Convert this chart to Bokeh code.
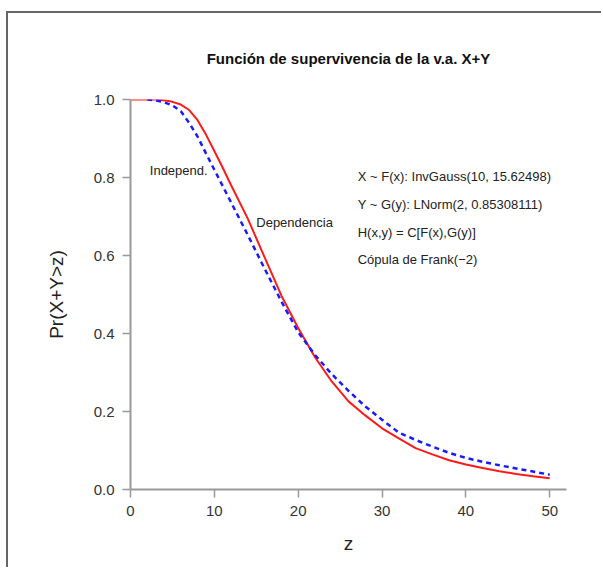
from bokeh.plotting import figure
from bokeh.models import Range1d, FixedTicker, Label, PrintfTickFormatter, Title
from bokeh.embed import file_html
from bokeh.resources import INLINE

# Data
z_dep = [0, 2, 3, 4, 5, 6, 7, 8, 9, 10, 11, 12, 14, 16, 18, 20, 22, 24, 26, 28, 30, 32, 34, 36, 38, 40,
         42, 44, 46, 48, 50]
s_dep = [1.0, 1.0, 1.0, 0.998, 0.994, 0.987, 0.973, 0.947, 0.91, 0.868, 0.825, 0.78, 0.694, 0.595, 0.497,
         0.414, 0.339, 0.277, 0.226, 0.19, 0.157, 0.131, 0.106, 0.09, 0.075, 0.064, 0.055, 0.047, 0.04, 0.034,
         0.029]
z_ind = [2, 3, 4, 5, 6, 7, 8, 9, 10, 11, 12, 14, 16, 18, 20, 22, 24, 26, 28, 30, 32, 34, 36, 38, 40, 42, 44,
         46, 48, 50]
s_ind = [1.0, 0.998, 0.993, 0.985, 0.97, 0.94, 0.905, 0.862, 0.82, 0.778, 0.736, 0.652, 0.566, 0.482, 0.403,
         0.345, 0.296, 0.253, 0.213, 0.179, 0.146, 0.127, 0.11, 0.094, 0.081, 0.071, 0.062, 0.054, 0.046, 0.038]
x_ticks = [0, 10, 20, 30, 40, 50]
y_ticks = [0.0, 0.2, 0.4, 0.6, 0.8, 1.0]
title_text = "Función de supervivencia de la v.a. X+Y"
info_lines = ["X ~ F(x): InvGauss(10, 15.62498)",
              "Y ~ G(y): LNorm(2, 0.85308111)",
              "H(x,y) = C[F(x),G(y)]",
              "Cópula de Frank(−2)"]

FONT = "Liberation Sans"

p = figure(width=595, height=556, output_backend="svg", toolbar_location=None,
           x_range=Range1d(0, 52), y_range=Range1d(0, 1.0),
           min_border_left=122, min_border_right=37, min_border_top=86, min_border_bottom=80,
           styles={"margin-left": "6px", "margin-top": "11px",
                   "border-left": "2px solid #666666", "border-top": "2px solid #666666"})
p.outline_line_color = None
p.grid.visible = False
p.background_fill_color = "white"
p.border_fill_color = "white"

p.title = Title(text=title_text, align="center", text_font=FONT, text_font_size="15px",
                text_font_style="bold", text_color="#111111", offset=0, standoff=66)

for ax in (p.xaxis[0], p.yaxis[0]):
    ax.axis_line_color = "#999999"
    ax.axis_line_width = 2
    ax.major_tick_line_color = "#999999"
    ax.major_tick_line_width = 1.5
    ax.major_tick_out = 8
    ax.major_tick_in = 0
    ax.minor_tick_line_color = None
    ax.major_label_text_font = FONT
    ax.major_label_text_font_size = "15px"
    ax.major_label_text_color = "#333333"
    ax.axis_label_text_font = FONT
    ax.axis_label_text_font_size = "19px"
    ax.axis_label_text_font_style = "normal"
    ax.axis_label_text_color = "#222222"

p.xaxis.ticker = FixedTicker(ticks=x_ticks)
p.yaxis.ticker = FixedTicker(ticks=y_ticks)
p.yaxis.formatter = PrintfTickFormatter(format="%.1f")
p.yaxis.major_label_orientation = "horizontal"
p.xaxis.axis_label = "z"
p.yaxis.axis_label = "Pr(X+Y>z)"
p.xaxis.major_label_standoff = 8
p.yaxis.major_label_standoff = 8
p.xaxis.axis_label_standoff = 14
p.yaxis.axis_label_standoff = 24

p.line(z_dep, s_dep, line_color="#ff1a1a", line_width=2)
p.line(z_ind, s_ind, line_color="#1a1aff", line_width=2.5, line_dash="5 4")

p.add_layout(Label(x=2.3, y=0.818, text="Independ.", text_font=FONT, text_font_size="13px",
                   text_color="#222222", text_baseline="middle"))
p.add_layout(Label(x=15.0, y=0.685, text="Dependencia", text_font=FONT, text_font_size="13px",
                   text_color="#222222", text_baseline="middle"))
info_y = [0.803, 0.731, 0.659, 0.590]
for t, yy in zip(info_lines, info_y):
    p.add_layout(Label(x=27.1, y=yy, text=t, text_font=FONT, text_font_size="13px",
                       text_color="#222222", text_baseline="middle"))

open("out.html", "w").write(file_html(p, INLINE))
